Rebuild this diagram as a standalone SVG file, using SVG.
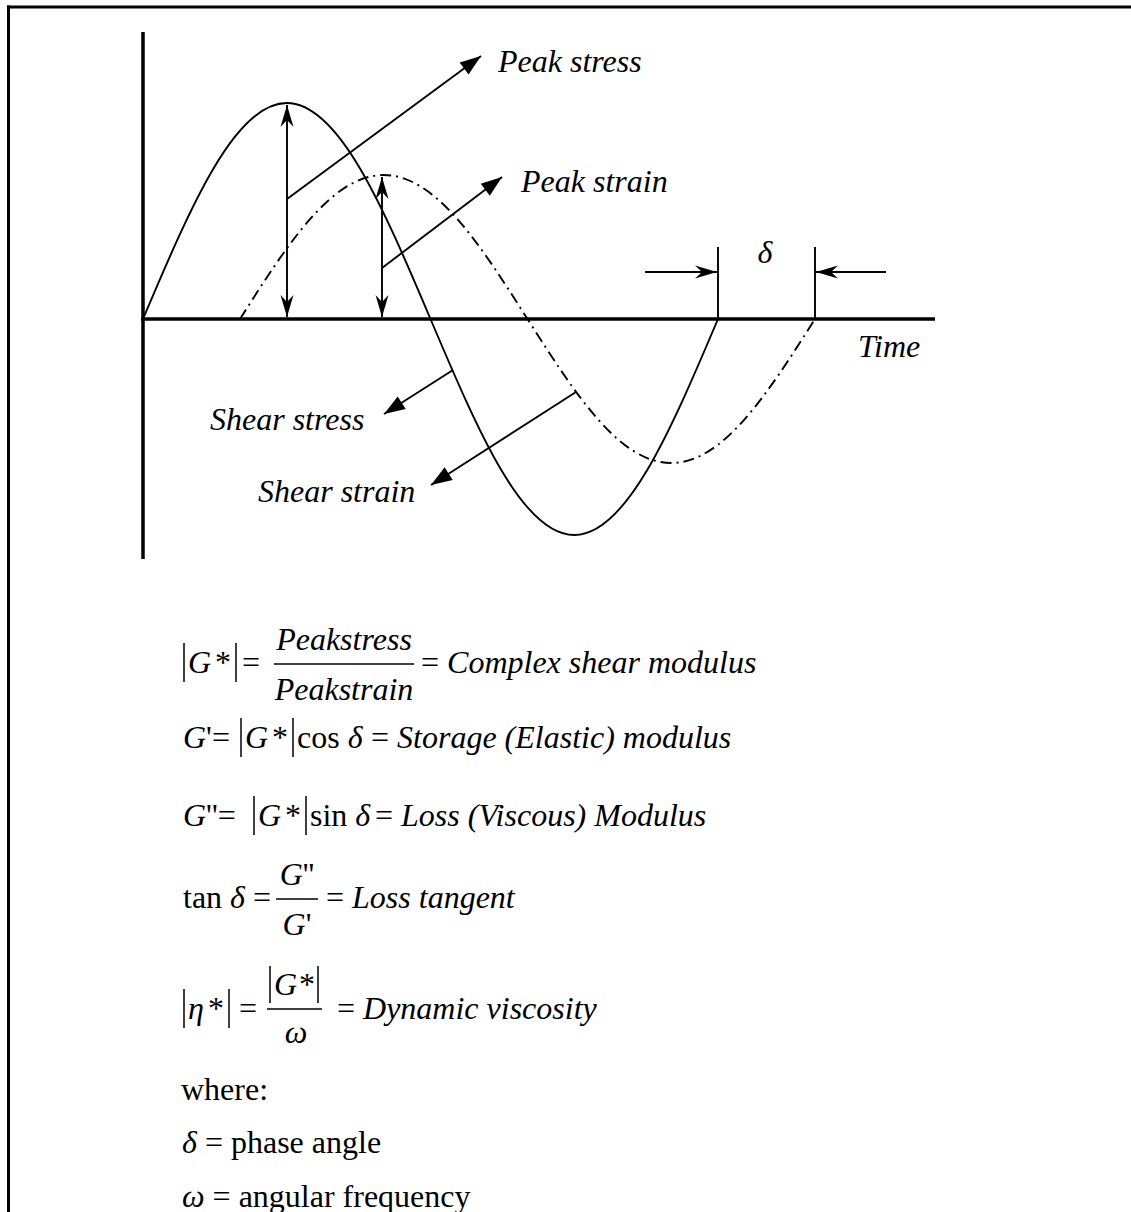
<svg xmlns="http://www.w3.org/2000/svg" width="1131" height="1212" viewBox="0 0 1131 1212">
<style>
.it{font-family:"Liberation Serif","Times New Roman",serif;font-style:italic;font-size:32px;fill:#000}
.rm{font-family:"Liberation Serif","Times New Roman",serif;font-style:normal;font-size:32px;fill:#000}
.thin{stroke:#000;stroke-width:1.9;fill:none}
.axis{stroke:#000;stroke-width:3.5;fill:none}
.bar{stroke:#000;stroke-width:1.5;fill:none}
</style>
<defs>
<marker id="tri" markerUnits="userSpaceOnUse" markerWidth="24" markerHeight="18" viewBox="-22 -9 24 18" refX="0" refY="0" orient="auto">
<path d="M0,0 L-21,-7.5 L-21,7.5 Z" fill="#000"/>
</marker>
<marker id="barb" markerUnits="userSpaceOnUse" markerWidth="26" markerHeight="16" viewBox="-24 -8 26 16" refX="0" refY="0" orient="auto-start-reverse">
<path d="M0,0 L-22,-6.5 L-15,0 L-22,6.5 Z" fill="#000"/>
</marker>
</defs>
<rect width="1131" height="1212" fill="#fff"/>
<g id="frame">
<line x1="7" y1="7" x2="1131" y2="7" stroke="#000" stroke-width="3"/>
<line x1="8.5" y1="5.5" x2="8.5" y2="1212" stroke="#000" stroke-width="3"/>
</g>
<g id="axes">
<line class="axis" x1="143" y1="32" x2="143" y2="559"/>
<line class="axis" x1="141" y1="319" x2="935" y2="319"/>
</g>
<g id="stress-curve">
<path class="thin" d="M143,319 C191.06,205.6 235,103 286.75,103 C338.49,103 382.44,205.6 430.5,319 C478.56,432.4 522.51,535 574.25,535 C625.99,535 669.94,432.4 718,319"/>
</g>
<g id="strain-curve">
<path class="thin" stroke-dasharray="11 5 2 5" d="M240,319 C288.06,243.4 332.01,175 383.75,175 C435.49,175 479.44,243.4 527.5,319 C575.56,394.6 619.51,463 671.25,463 C722.99,463 766.94,394.6 815,319"/>
</g>
<g id="connectors">
<line class="thin" x1="287" y1="105" x2="287" y2="317" marker-start="url(#barb)" marker-end="url(#barb)"/>
<line class="thin" x1="382" y1="177" x2="382" y2="317" marker-start="url(#barb)" marker-end="url(#barb)"/>
<line class="thin" x1="287" y1="199" x2="481" y2="56" marker-end="url(#tri)"/>
<line class="thin" x1="382" y1="268" x2="502" y2="177" marker-end="url(#tri)"/>
<line class="thin" x1="453" y1="370" x2="384" y2="414" marker-end="url(#tri)"/>
<line class="thin" x1="576" y1="392" x2="431" y2="485" marker-end="url(#tri)"/>
<line class="thin" x1="718" y1="247" x2="718" y2="319"/>
<line class="thin" x1="815" y1="247" x2="815" y2="319"/>
<line class="thin" x1="645" y1="272" x2="717" y2="272" marker-end="url(#barb)"/>
<line class="thin" x1="886" y1="272" x2="816" y2="272" marker-end="url(#barb)"/>
</g>
<g id="labels">
<text class="it" x="498" y="72">Peak stress</text>
<text class="it" x="521" y="192">Peak strain</text>
<text class="it" x="765" y="263" text-anchor="middle">δ</text>
<text class="it" x="858" y="357">Time</text>
<text class="it" x="210" y="430">Shear stress</text>
<text class="it" x="258" y="502">Shear strain</text>
</g>
<g id="eq1">
<line class="bar" x1="184" y1="643" x2="184" y2="682"/>
<text class="it" x="188" y="673">G</text>
<text class="rm" x="215" y="673">*</text>
<line class="bar" x1="236" y1="643" x2="236" y2="682"/>
<text class="rm" x="242" y="673">=</text>
<line class="bar" x1="274" y1="664" x2="414" y2="664"/>
<text class="it" x="344" y="650" text-anchor="middle">Peakstress</text>
<text class="it" x="344" y="700" text-anchor="middle">Peakstrain</text>
<text class="rm" x="421" y="673">= <tspan class="it">Complex shear modulus</tspan></text>
</g>
<g id="eq2">
<text class="it" x="183" y="748">G<tspan class="rm">'=</tspan></text>
<line class="bar" x1="241" y1="718" x2="241" y2="757"/>
<text class="it" x="245" y="748">G</text>
<text class="rm" x="272" y="748">*</text>
<line class="bar" x1="293" y1="718" x2="293" y2="757"/>
<text class="rm" x="297" y="748">cos <tspan class="it">δ</tspan></text>
<text class="rm" x="371" y="748">= <tspan class="it">Storage (Elastic) modulus</tspan></text>
</g>
<g id="eq3">
<text class="it" x="183" y="826">G<tspan class="rm">''=</tspan></text>
<line class="bar" x1="254" y1="796" x2="254" y2="835"/>
<text class="it" x="258" y="826">G</text>
<text class="rm" x="285" y="826">*</text>
<line class="bar" x1="306" y1="796" x2="306" y2="835"/>
<text class="rm" x="310" y="826">sin <tspan class="it">δ</tspan></text>
<text class="rm" x="375" y="826">= <tspan class="it">Loss (Viscous) Modulus</tspan></text>
</g>
<g id="eq4">
<text class="rm" x="183" y="908">tan <tspan class="it">δ</tspan> =</text>
<line class="bar" x1="276" y1="899" x2="318" y2="899"/>
<text class="it" x="297" y="885" text-anchor="middle">G<tspan class="rm">''</tspan></text>
<text class="it" x="297" y="935" text-anchor="middle">G<tspan class="rm">'</tspan></text>
<text class="rm" x="326" y="908">= <tspan class="it">Loss tangent</tspan></text>
</g>
<g id="eq5">
<line class="bar" x1="184" y1="989" x2="184" y2="1028"/>
<text class="it" x="188" y="1019">η</text>
<text class="rm" x="208" y="1019">*</text>
<line class="bar" x1="229" y1="989" x2="229" y2="1028"/>
<text class="rm" x="239" y="1019">=</text>
<line class="bar" x1="267" y1="1009" x2="322" y2="1009"/>
<line class="bar" x1="270" y1="966" x2="270" y2="1003"/>
<text class="it" x="274" y="995">G</text>
<text class="rm" x="299" y="995">*</text>
<line class="bar" x1="318" y1="966" x2="318" y2="1003"/>
<text class="it" x="296" y="1043" text-anchor="middle">ω</text>
<text class="rm" x="337" y="1019">= <tspan class="it">Dynamic viscosity</tspan></text>
</g>
<g id="notes">
<text class="rm" x="181" y="1100">where:</text>
<text class="rm" x="182" y="1153"><tspan class="it">δ</tspan> = phase angle</text>
<text class="rm" x="182" y="1207"><tspan class="it">ω</tspan> = angular frequency</text>
</g>
</svg>
